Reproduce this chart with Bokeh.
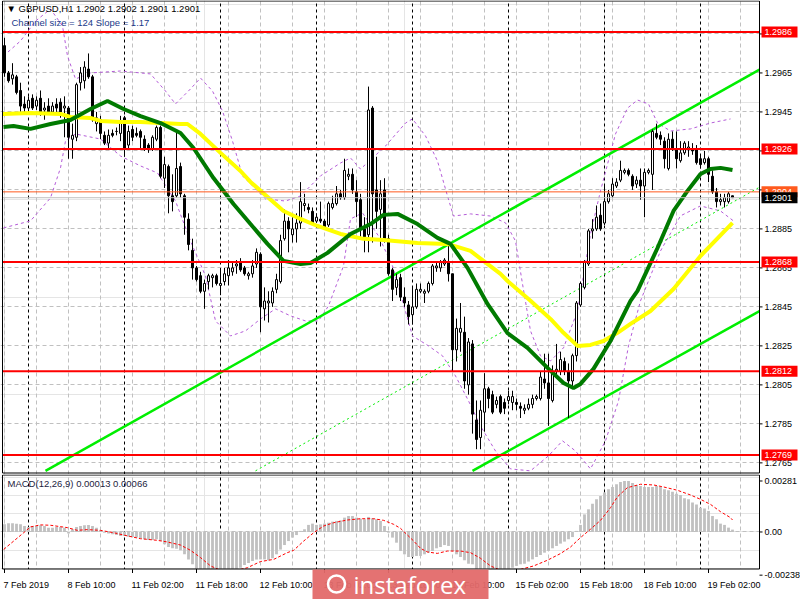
from bokeh.plotting import figure
from bokeh.models import Range1d, FixedTicker, Label, Grid
from bokeh.layouts import column
from bokeh.embed import file_html
from bokeh.resources import INLINE
from bokeh.core.properties import value

# ---------------- data (GBPUSD H1, bar index 0 = 7 Feb 2019 18:00) ----------------
bar_open = [
    1.2979, 1.2965, 1.2962, 1.2963, 1.2956, 1.2949, 1.2947, 1.2952, 1.2948, 1.2952,
    1.2946, 1.2948, 1.2945, 1.2949, 1.2950, 1.2947, 1.2947, 1.2931, 1.2932, 1.2960,
    1.2961, 1.2967, 1.2963, 1.2939, 1.2941, 1.2933, 1.2929, 1.2934, 1.2935, 1.2934,
    1.2942, 1.2928, 1.2936, 1.2934, 1.2935, 1.2931, 1.2928, 1.2926, 1.2931, 1.2937,
    1.2911, 1.2917, 1.2902, 1.2902, 1.2917, 1.2902, 1.2890, 1.2874, 1.2865, 1.2861,
    1.2853, 1.2858, 1.2860, 1.2861, 1.2856, 1.2858, 1.2861, 1.2863, 1.2866, 1.2868,
    1.2865, 1.2861, 1.2862, 1.2867, 1.2872, 1.2844, 1.2847, 1.2847, 1.2854, 1.2858,
    1.2880, 1.2889, 1.2882, 1.2885, 1.2888, 1.2897, 1.2896, 1.2894, 1.2889, 1.2890,
    1.2889, 1.2887, 1.2896, 1.2898, 1.2903, 1.2901, 1.2912, 1.2913, 1.2904, 1.2900,
    1.2885, 1.2882, 1.2947, 1.2905, 1.2895, 1.2905, 1.2880, 1.2864, 1.2855, 1.2860,
    1.2850, 1.2846, 1.2841, 1.2845, 1.2853, 1.2852, 1.2853, 1.2857, 1.2865, 1.2865,
    1.2867, 1.2868, 1.2862, 1.2823, 1.2832, 1.2832, 1.2805, 1.2826, 1.2787, 1.2778,
    1.2791, 1.2803, 1.2800, 1.2795, 1.2799, 1.2796, 1.2797, 1.2796, 1.2796, 1.2794,
    1.2792, 1.2793, 1.2795, 1.2798, 1.2798, 1.2808, 1.2806, 1.2797, 1.2812, 1.2812,
    1.2817, 1.2812, 1.2807, 1.2820, 1.2846, 1.2855, 1.2867, 1.2884, 1.2885, 1.2892,
    1.2888, 1.2899, 1.2902, 1.2907, 1.2910, 1.2914, 1.2915, 1.2912, 1.2908, 1.2910,
    1.2907, 1.2914, 1.2913, 1.2934, 1.2933, 1.2930, 1.2916, 1.2931, 1.2926, 1.2920,
    1.2924, 1.2926, 1.2926, 1.2926, 1.2921, 1.2919, 1.2921, 1.2912, 1.2904, 1.2899,
    1.2899, 1.2899, 1.2902]
bar_high = [
    1.2983, 1.2966, 1.2970, 1.2964, 1.2960, 1.2953, 1.2953, 1.2954, 1.2953, 1.2956,
    1.2950, 1.2952, 1.2950, 1.2952, 1.2952, 1.2953, 1.2948, 1.2939, 1.2960, 1.2968,
    1.2971, 1.2975, 1.2964, 1.2945, 1.2943, 1.2935, 1.2936, 1.2936, 1.2937, 1.2943,
    1.2943, 1.2938, 1.2938, 1.2937, 1.2936, 1.2933, 1.2929, 1.2933, 1.2938, 1.2938,
    1.2922, 1.2918, 1.2913, 1.2936, 1.2919, 1.2903, 1.2893, 1.2880, 1.2866, 1.2863,
    1.2859, 1.2862, 1.2862, 1.2862, 1.2865, 1.2865, 1.2869, 1.2868, 1.2869, 1.2870,
    1.2866, 1.2863, 1.2869, 1.2875, 1.2873, 1.2855, 1.2853, 1.2855, 1.2862, 1.2882,
    1.2895, 1.2891, 1.2891, 1.2893, 1.2909, 1.2903, 1.2898, 1.2896, 1.2893, 1.2899,
    1.2890, 1.2899, 1.2902, 1.2907, 1.2905, 1.2921, 1.2916, 1.2916, 1.2910, 1.2903,
    1.2891, 1.2958, 1.2948, 1.2922, 1.2910, 1.2911, 1.2882, 1.2865, 1.2862, 1.2862,
    1.2855, 1.2848, 1.2855, 1.2857, 1.2857, 1.2854, 1.2858, 1.2867, 1.2868, 1.2869,
    1.2870, 1.2877, 1.2862, 1.2839, 1.2847, 1.2840, 1.2829, 1.2828, 1.2797, 1.2797,
    1.2811, 1.2804, 1.2802, 1.2799, 1.2800, 1.2798, 1.2802, 1.2802, 1.2798, 1.2796,
    1.2795, 1.2798, 1.2800, 1.2800, 1.2812, 1.2821, 1.2821, 1.2815, 1.2826, 1.2822,
    1.2819, 1.2816, 1.2821, 1.2848, 1.2858, 1.2869, 1.2885, 1.2890, 1.2897, 1.2898,
    1.2907, 1.2905, 1.2911, 1.2911, 1.2920, 1.2916, 1.2916, 1.2913, 1.2912, 1.2916,
    1.2916, 1.2916, 1.2936, 1.2939, 1.2935, 1.2932, 1.2934, 1.2935, 1.2935, 1.2930,
    1.2930, 1.2930, 1.2929, 1.2928, 1.2923, 1.2925, 1.2922, 1.2915, 1.2906, 1.2903,
    1.2903, 1.2904, 1.2902]
bar_low = [
    1.2963, 1.2960, 1.2959, 1.2954, 1.2945, 1.2945, 1.2944, 1.2946, 1.2946, 1.2943,
    1.2941, 1.2944, 1.2944, 1.2945, 1.2942, 1.2932, 1.2921, 1.2921, 1.2930, 1.2956,
    1.2957, 1.2962, 1.2940, 1.2935, 1.2931, 1.2928, 1.2926, 1.2932, 1.2933, 1.2930,
    1.2922, 1.2926, 1.2930, 1.2932, 1.2926, 1.2925, 1.2924, 1.2925, 1.2930, 1.2911,
    1.2906, 1.2893, 1.2894, 1.2901, 1.2901, 1.2882, 1.2874, 1.2859, 1.2858, 1.2852,
    1.2844, 1.2854, 1.2855, 1.2856, 1.2851, 1.2856, 1.2856, 1.2861, 1.2862, 1.2863,
    1.2861, 1.2859, 1.2860, 1.2865, 1.2832, 1.2838, 1.2837, 1.2845, 1.2852, 1.2857,
    1.2879, 1.2873, 1.2878, 1.2878, 1.2885, 1.2894, 1.2893, 1.2887, 1.2888, 1.2888,
    1.2885, 1.2886, 1.2895, 1.2897, 1.2900, 1.2900, 1.2910, 1.2903, 1.2891, 1.2881,
    1.2873, 1.2873, 1.2878, 1.2885, 1.2876, 1.2878, 1.2861, 1.2848, 1.2851, 1.2848,
    1.2845, 1.2836, 1.2836, 1.2844, 1.2852, 1.2847, 1.2852, 1.2856, 1.2863, 1.2863,
    1.2866, 1.2858, 1.2812, 1.2817, 1.2822, 1.2803, 1.2800, 1.2780, 1.2772, 1.2772,
    1.2781, 1.2793, 1.2790, 1.2793, 1.2790, 1.2790, 1.2795, 1.2792, 1.2792, 1.2788,
    1.2790, 1.2792, 1.2793, 1.2797, 1.2797, 1.2803, 1.2784, 1.2796, 1.2810, 1.2810,
    1.2810, 1.2788, 1.2803, 1.2817, 1.2845, 1.2854, 1.2866, 1.2880, 1.2884, 1.2884,
    1.2887, 1.2898, 1.2901, 1.2906, 1.2909, 1.2913, 1.2912, 1.2905, 1.2906, 1.2900,
    1.2891, 1.2913, 1.2905, 1.2931, 1.2928, 1.2916, 1.2915, 1.2925, 1.2916, 1.2919,
    1.2923, 1.2922, 1.2923, 1.2918, 1.2916, 1.2918, 1.2909, 1.2903, 1.2896, 1.2897,
    1.2896, 1.2898, 1.2901]
bar_close = [
    1.2965, 1.2961, 1.2964, 1.2955, 1.2948, 1.2947, 1.2951, 1.2947, 1.2951, 1.2944,
    1.2947, 1.2945, 1.2948, 1.2947, 1.2945, 1.2948, 1.2932, 1.2933, 1.2959, 1.2965,
    1.2968, 1.2963, 1.2941, 1.2942, 1.2934, 1.2929, 1.2933, 1.2933, 1.2935, 1.2940,
    1.2926, 1.2935, 1.2932, 1.2933, 1.2932, 1.2926, 1.2926, 1.2932, 1.2937, 1.2912,
    1.2918, 1.2902, 1.2899, 1.2916, 1.2903, 1.2891, 1.2877, 1.2865, 1.2859, 1.2853,
    1.2857, 1.2861, 1.2861, 1.2857, 1.2857, 1.2862, 1.2865, 1.2865, 1.2867, 1.2864,
    1.2862, 1.2862, 1.2866, 1.2873, 1.2845, 1.2848, 1.2848, 1.2853, 1.2859, 1.2879,
    1.2889, 1.2885, 1.2885, 1.2888, 1.2899, 1.2898, 1.2895, 1.2888, 1.2891, 1.2889,
    1.2886, 1.2898, 1.2898, 1.2903, 1.2901, 1.2915, 1.2913, 1.2905, 1.2899, 1.2885,
    1.2881, 1.2946, 1.2903, 1.2894, 1.2903, 1.2879, 1.2862, 1.2854, 1.2859, 1.2850,
    1.2847, 1.2840, 1.2845, 1.2854, 1.2854, 1.2853, 1.2857, 1.2866, 1.2866, 1.2868,
    1.2869, 1.2862, 1.2823, 1.2834, 1.2834, 1.2807, 1.2827, 1.2790, 1.2777, 1.2792,
    1.2803, 1.2798, 1.2791, 1.2797, 1.2791, 1.2793, 1.2799, 1.2799, 1.2795, 1.2793,
    1.2793, 1.2795, 1.2798, 1.2799, 1.2809, 1.2806, 1.2798, 1.2812, 1.2813, 1.2818,
    1.2812, 1.2807, 1.2820, 1.2847, 1.2857, 1.2868, 1.2884, 1.2885, 1.2891, 1.2885,
    1.2899, 1.2903, 1.2908, 1.2909, 1.2915, 1.2915, 1.2913, 1.2907, 1.2910, 1.2907,
    1.2914, 1.2915, 1.2935, 1.2932, 1.2931, 1.2921, 1.2931, 1.2926, 1.2921, 1.2924,
    1.2929, 1.2927, 1.2925, 1.2919, 1.2918, 1.2921, 1.2913, 1.2904, 1.2899, 1.2900,
    1.2901, 1.2903, 1.2901]

# moving averages (read at sample bars)
ma_yellow_x = [-0.5, 6.5, 14, 16.5, 21.5, 24, 29, 34, 39, 44, 45.75, 49, 54, 59, 61.5, 69.75, 74,
               78.25, 84, 89.75, 94.75, 103.25, 110.75, 116.5, 119.75, 124, 125.75, 131.5, 136.5,
               139.75, 143.25, 146.5, 149.75, 153.25, 156.5, 161.5, 167.25, 174, 182]
ma_yellow_p = [1.29440, 1.29445, 1.29440, 1.29424, 1.29419, 1.29404, 1.29398, 1.29398, 1.29393,
               1.29388, 1.29388, 1.29337, 1.29240, 1.29147, 1.29091, 1.28942, 1.28901, 1.28865,
               1.28824, 1.28799, 1.28793, 1.28778, 1.28773, 1.28737, 1.28686, 1.28619, 1.28583,
               1.28481, 1.28388, 1.28317, 1.28250, 1.28255, 1.28275, 1.28317, 1.28363, 1.28429,
               1.28542, 1.28711, 1.28881]
ma_green_x = [-0.25, 2.25, 6.5, 11.5, 16.5, 21.5, 25.75, 29.75, 34, 39, 44, 47.25, 52.25, 57.25,
              61.5, 65.75, 69.75, 74, 76.5, 80.75, 86.5, 91.5, 94.75, 98.25, 103.25, 108.25, 111.5,
              115.75, 120.75, 125.75, 130.75, 135.75, 139.75, 142.25, 144, 147.25, 151.5, 156.5,
              158.25, 163.25, 167.25, 170.75, 174, 176.5, 179, 182]
ma_green_p = [1.29373, 1.29378, 1.29363, 1.29388, 1.29409, 1.29465, 1.29506, 1.29465, 1.29429,
              1.29393, 1.29342, 1.29265, 1.29111, 1.28978, 1.28875, 1.28773, 1.28686, 1.28670,
              1.28675, 1.28727, 1.28824, 1.28875, 1.28922, 1.28927, 1.28875, 1.28804, 1.28773,
              1.28650, 1.28465, 1.28316, 1.28240, 1.28137, 1.28060, 1.28034, 1.28055, 1.28132,
              1.28275, 1.28481, 1.28532, 1.28752, 1.28942, 1.29045, 1.29132, 1.29157, 1.29163,
              1.29152]

# envelope bands (purple dashed)
band_up_x = [-0.25, 4, 7.75, 11.5, 14.5, 15.75, 17.75, 21.5, 29, 36.5, 40.25, 42.75, 46.5, 49, 52,
             54.5, 57, 59.5, 61.5, 65.25, 70.25, 74, 79, 84, 86.5, 89, 95.25, 100.25, 102, 105.25,
             108.25, 110.75, 112.25, 116.5, 121.5, 125.25, 127.75, 129.5, 131.5, 134, 136.5,
             139.75, 143.25, 146.5, 149, 152.75, 155.75, 158.25, 161, 163.25, 166.5, 171.5,
             176.5, 181.5]
band_up_p = [1.29737, 1.29814, 1.29916, 1.29978, 1.29891, 1.29737, 1.29619, 1.29650, 1.29660,
             1.29645, 1.29557, 1.29491, 1.29568, 1.29624, 1.29557, 1.29455, 1.29301, 1.29122,
             1.29081, 1.29004, 1.28993, 1.29019, 1.29122, 1.29188, 1.29214, 1.29157, 1.29275,
             1.29393, 1.29414, 1.29327, 1.29198, 1.29019, 1.28916, 1.28927, 1.28916, 1.28881,
             1.28788, 1.28568, 1.28327, 1.28199, 1.28173, 1.28240, 1.28429, 1.28824, 1.29045,
             1.29337, 1.29470, 1.29511, 1.29491, 1.29393, 1.29352, 1.29363, 1.29393, 1.29414]
band_lo_x = [-0.25, 6.5, 11.5, 14, 15.25, 17.75, 24, 29, 34, 38.25, 42.75, 46.5, 50.25, 52.75,
             56.5, 60.25, 64, 67.75, 71.5, 75.25, 78.5, 81, 84.75, 86.5, 89.5, 93.5, 97, 99.5,
             102, 106, 109.5, 112.75, 116, 119, 122.75, 126.5, 131.5, 136, 139.5, 142.75, 146.5,
             150.25, 153.5, 156, 159, 164, 169, 174, 179, 182.25]
band_lo_p = [1.28855, 1.28891, 1.29009, 1.29163, 1.29301, 1.29337, 1.29311, 1.29224, 1.29173,
             1.29137, 1.28993, 1.28788, 1.28609, 1.28378, 1.28301, 1.28327, 1.28388, 1.28440,
             1.28404, 1.28378, 1.28378, 1.28455, 1.28660, 1.28901, 1.28932, 1.28814, 1.28660,
             1.28481, 1.28301, 1.28250, 1.28199, 1.28096, 1.27968, 1.27839, 1.27711, 1.27619,
             1.27609, 1.27686, 1.27763, 1.27711, 1.27619, 1.27763, 1.27968, 1.28250, 1.28481,
             1.28737, 1.28917, 1.28968, 1.28942, 1.28891]

# regression channel (end points)
chan_up_x = [10.25, 188.75]
chan_up_p = [1.27609, 1.29667]
chan_mid_x = [62.75, 188.75]
chan_mid_p = [1.27609, 1.29064]
chan_lo_x = [117.0, 188.75]
chan_lo_p = [1.27609, 1.28428]

# horizontal levels
red_levels = [1.2986, 1.2926, 1.2868, 1.2812, 1.2769]
ask_level = 1.2904
bid_level = 1.2901

price_ticks = [1.2765, 1.2785, 1.2805, 1.2825, 1.2845, 1.2865, 1.2885, 1.2905, 1.2925, 1.2945,
               1.2965, 1.2985]

# MACD(12,26,9)
macd_hist = [
    0.00042, 0.00048, 0.00048, 0.00046, 0.00042, 0.00033, 0.00028, 0.00033, 0.00033, 0.00037,
    0.00033, 0.00024, 0.00024, 0.00028, 0.00028, 0.00024, -0.00009, 0.00015, 0.00028, 0.00033,
    0.00037, 0.00039, 0.00033, 0.00024, 0.00009, -0.00004, -0.00009, -0.00013, -0.00017, -0.00022,
    -0.00022, -0.00026, -0.00028, -0.00031, -0.00035, -0.00040, -0.00044, -0.00044, -0.00040, -0.00050,
    -0.00068, -0.00083, -0.00090, -0.00092, -0.00101, -0.00123, -0.00151, -0.00178, -0.00206, -0.00218,
    -0.00226, -0.00232, -0.00236, -0.00238, -0.00236, -0.00231, -0.00226, -0.00218, -0.00206, -0.00197,
    -0.00182, -0.00171, -0.00160, -0.00152, -0.00151, -0.00151, -0.00156, -0.00145, -0.00123, -0.00097,
    -0.00072, -0.00050, -0.00031, -0.00017, 0.00006, 0.00015, 0.00039, 0.00046, 0.00039, 0.00042,
    0.00046, 0.00051, 0.00057, 0.00061, 0.00064, 0.00079, 0.00088, 0.00088, 0.00079, 0.00073,
    0.00070, 0.00083, 0.00075, 0.00070, 0.00061, 0.00033, -0.00004, -0.00031, -0.00059, -0.00105,
    -0.00123, -0.00138, -0.00138, -0.00132, -0.00132, -0.00123, -0.00114, -0.00105, -0.00090, -0.00083,
    -0.00072, -0.00077, -0.00105, -0.00123, -0.00138, -0.00156, -0.00175, -0.00178, -0.00206, -0.00218,
    -0.00226, -0.00230, -0.00228, -0.00222, -0.00214, -0.00211, -0.00206, -0.00197, -0.00187, -0.00178,
    -0.00175, -0.00163, -0.00151, -0.00138, -0.00127, -0.00114, -0.00105, -0.00090, -0.00077, -0.00064,
    -0.00053, -0.00040, -0.00028, 0.00006, 0.00039, 0.00097, 0.00125, 0.00156, 0.00180, 0.00198,
    0.00217, 0.00235, 0.00248, 0.00263, 0.00276, 0.00281, 0.00281, 0.00270, 0.00259, 0.00254,
    0.00248, 0.00248, 0.00248, 0.00254, 0.00248, 0.00235, 0.00230, 0.00222, 0.00211, 0.00204,
    0.00186, 0.00180, 0.00162, 0.00152, 0.00134, 0.00130, 0.00116, 0.00088, 0.00070, 0.00046,
    0.00039, 0.00024, 0.00013]
sig_x = [-0.2, 2.3, 4.8, 6.5, 9, 11.5, 15.7, 18.2, 20.7, 24, 27.3, 29.8, 34, 38.2, 40.7, 44, 46.5,
         49, 51.5, 54, 57.3, 60.7, 64, 67.3, 70.7, 72.3, 74.8, 77.3, 79.8, 82.3, 85.7, 89, 92.3,
         94.8, 97.3, 99, 102.3, 104, 105.7, 108.2, 110.7, 114, 116.5, 119, 121.5, 124, 126.5, 129,
         132.3, 135.7, 139, 141.5, 144, 146.5, 149, 151.5, 153.2, 155.7, 159, 162.3, 164.8, 168.2,
         171.5, 174, 176.5, 179, 181.5, 182]
sig_v = [-0.00096, -0.00050, -0.00004, 0.00028, 0.00039, 0.00037, 0.00024, 0.00009, 0.00013,
         0.00009, -0.00004, -0.00017, -0.00037, -0.00046, -0.00055, -0.00072, -0.00101, -0.00141,
         -0.00187, -0.00211, -0.00215, -0.00197, -0.00163, -0.00151, -0.00114, -0.00101, -0.00050,
         -0.00004, 0.00033, 0.00051, 0.00066, 0.00073, 0.00073, 0.00064, 0.00042, 0.00020,
         -0.00050, -0.00090, -0.00110, -0.00118, -0.00105, -0.00105, -0.00114, -0.00145, -0.00187,
         -0.00211, -0.00215, -0.00206, -0.00187, -0.00156, -0.00119, -0.00083, -0.00031, 0.00015,
         0.00064, 0.00134, 0.00193, 0.00244, 0.00263, 0.00259, 0.00248, 0.00230, 0.00204, 0.00180,
         0.00152, 0.00112, 0.00079, 0.00066]
macd_ticks = [0.00281, 0.0, -0.00238]
macd_tick_labels = ["0.00281", "0.00", "-0.00238"]

grid_bars = list(range(0, 189, 8))
day_sep_bars = [6, 30, 54, 78, 102, 126, 150, 174]
time_tick_bars = [0, 16, 32, 48, 64, 80, 96, 112, 128, 144, 160, 176]
time_tick_labels = ["7 Feb 2019", "8 Feb 10:00", "11 Feb 02:00", "11 Feb 18:00", "12 Feb 10:00",
                    "13 Feb 02:00", "13 Feb 18:00", "14 Feb 10:00", "15 Feb 02:00", "15 Feb 18:00",
                    "18 Feb 10:00", "19 Feb 02:00"]

# ---------------- geometry / styling ----------------
FONT = "Liberation Sans"
GRAY = "#c0c0c0"
W = 800
PXB = 4.0                          # pixels per bar
X0, X1 = -0.5, 188.75              # left / right edge of the price area (bars)
XL = X0 - 2 / PXB
XR = XL + W / PXB

MAIN_TOP, MAIN_BOT = 1.30019, 1.27598
MAIN_PANEL_H = 472
MAIN_FRAME_H = 474
vpp = (MAIN_TOP - MAIN_BOT) / MAIN_PANEL_H

MACD_TOP, MACD_BOT = 0.00314, -0.00204
MACD_PANEL_H = 94
MACD_FRAME_H = 126
mvpp = (MACD_TOP - MACD_BOT) / MACD_PANEL_H
LABEL_PX = MACD_FRAME_H - MACD_PANEL_H - 0.5

idx = list(range(len(bar_open)))
up = [i for i in idx if bar_close[i] >= bar_open[i]]
dn = [i for i in idx if bar_close[i] < bar_open[i]]


def add_vgrids(fig):
    fig.add_layout(Grid(dimension=0, ticker=FixedTicker(ticks=grid_bars),
                        grid_line_color=GRAY, grid_line_dash="4 3"))
    fig.add_layout(Grid(dimension=0, ticker=FixedTicker(ticks=day_sep_bars),
                        grid_line_color="black", grid_line_dash="3 3"))


def base_fig(h, yr):
    f = figure(frame_width=W, frame_height=h, x_range=Range1d(XL, XR), y_range=yr,
               output_backend="svg", toolbar_location=None,
               x_axis_location=None, y_axis_location=None,
               min_border_left=0, min_border_right=0, min_border_top=0, min_border_bottom=0)
    f.outline_line_color = None
    f.background_fill_color = "white"
    f.border_fill_color = "white"
    return f


def axis_text(fig, ys, labels, color="black"):
    fig.text(x=[X1] * len(ys), y=ys, text=labels, x_offset=5,
             text_font=value(FONT), text_font_size=value("9px"), text_color=color,
             text_baseline="middle", text_align="left")


def badge(fig, lv, txt, fill):
    fig.rect(x=[X1 + 20 / PXB], y=[lv], width=36, height=11, width_units="screen",
             height_units="screen", fill_color=fill, line_color=None)
    axis_text(fig, [lv], [txt], color="white")


# ---------------- main price panel ----------------
p = base_fig(MAIN_FRAME_H, Range1d(MAIN_BOT - 1.5 * vpp, MAIN_TOP + 0.5 * vpp))
add_vgrids(p)
p.add_layout(Grid(dimension=1, ticker=FixedTicker(ticks=price_ticks),
                  grid_line_color=GRAY, grid_line_dash="4 3"))

p.line(band_up_x, band_up_p, line_color="#b45cd8", line_width=1, line_dash="3 3")
p.line(band_lo_x, band_lo_p, line_color="#b45cd8", line_width=1, line_dash="3 3")

p.line(chan_up_x, chan_up_p, line_color="#00ee00", line_width=2.5)
p.line(chan_lo_x, chan_lo_p, line_color="#00ee00", line_width=2.5)
p.line(chan_mid_x, chan_mid_p, line_color="#00ee00", line_width=1, line_dash="2 3")

p.segment(x0=idx, y0=bar_low, x1=idx, y1=bar_high, line_color="black", line_width=1)
p.vbar(x=up, width=0.5, top=[bar_close[i] for i in up], bottom=[bar_open[i] for i in up],
       fill_color="white", line_color="black", line_width=1)
p.vbar(x=dn, width=0.5, top=[bar_open[i] for i in dn], bottom=[bar_close[i] for i in dn],
       fill_color="black", line_color="black", line_width=1)

p.line(ma_yellow_x, ma_yellow_p, line_color="#ffff00", line_width=4)
p.line(ma_green_x, ma_green_p, line_color="#007a00", line_width=4)

n_red = len(red_levels)
p.segment(x0=[X0] * n_red, x1=[X1] * n_red, y0=red_levels, y1=red_levels,
          line_color="#ff0000", line_width=2)
p.segment(x0=[X0], x1=[X1], y0=[ask_level], y1=[ask_level], line_color="#ff5a1e", line_width=1)
p.segment(x0=[X0], x1=[X1], y0=[bid_level], y1=[bid_level], line_color=GRAY, line_width=1)

# right price scale
p.quad(left=[X1], right=[XR], bottom=[MAIN_BOT - 1.5 * vpp], top=[MAIN_TOP + 0.5 * vpp],
       fill_color="white", line_color=None)
p.quad(left=[X0], right=[X1], bottom=[MAIN_BOT], top=[MAIN_TOP],
       fill_color=None, line_color="black", line_width=1)
n_t = len(price_ticks)
p.segment(x0=[X1] * n_t, x1=[X1 + 3 / PXB] * n_t, y0=price_ticks, y1=price_ticks,
          line_color="black", line_width=1)
axis_text(p, price_ticks, ["%.4f" % t for t in price_ticks])
for lv in red_levels:
    badge(p, lv, "%.4f" % lv, "#ff0000")
badge(p, ask_level, "%.4f" % ask_level, "#ff5a1e")
badge(p, bid_level, "%.4f" % bid_level, "black")

p.add_layout(Label(x=6, y=MAIN_FRAME_H - 8, x_units="screen", y_units="screen",
                   text="\u25bc GBPUSD,H1  1.2902 1.2902 1.2901 1.2901",
                   text_font=FONT, text_font_size="9.5px", text_color="black",
                   text_baseline="middle"))
p.add_layout(Label(x=11, y=MAIN_FRAME_H - 22, x_units="screen", y_units="screen",
                   text="Channel size = 124 Slope = 1.17",
                   text_font=FONT, text_font_size="9.5px", text_color="#1b3a8a",
                   text_baseline="middle"))

# ---------------- MACD panel ----------------
q = base_fig(MACD_FRAME_H, Range1d(MACD_BOT - LABEL_PX * mvpp, MACD_TOP + 0.5 * mvpp))
add_vgrids(q)
q.add_layout(Grid(dimension=1, ticker=FixedTicker(ticks=[0.0]),
                  grid_line_color=GRAY, grid_line_dash="4 3"))

q.vbar(x=idx, width=0.7, top=macd_hist, bottom=0, fill_color=GRAY, line_color=None)
q.line(sig_x, sig_v, line_color="#ff0000", line_width=1, line_dash="3 2")

q.quad(left=[X1], right=[XR], bottom=[MACD_BOT - LABEL_PX * mvpp], top=[MACD_TOP + 0.5 * mvpp],
       fill_color="white", line_color=None)
q.quad(left=[XL], right=[XR], bottom=[MACD_BOT - LABEL_PX * mvpp], top=[MACD_BOT],
       fill_color="white", line_color=None)
q.quad(left=[X0], right=[X1], bottom=[MACD_BOT], top=[MACD_TOP],
       fill_color=None, line_color="black", line_width=1)

q.segment(x0=[X1] * 3, x1=[X1 + 3 / PXB] * 3, y0=macd_ticks, y1=macd_ticks,
          line_color="black", line_width=1)
axis_text(q, macd_ticks, macd_tick_labels)

n_x = len(time_tick_bars)
q.segment(x0=time_tick_bars, x1=time_tick_bars, y0=[MACD_BOT] * n_x,
          y1=[MACD_BOT - 4 * mvpp] * n_x, line_color="black", line_width=1)
q.text(x=time_tick_bars, y=[MACD_BOT] * n_x, text=time_tick_labels, x_offset=-1, y_offset=16,
       text_font=value(FONT), text_font_size=value("9px"), text_color="black",
       text_baseline="middle", text_align="left")

# watermark
q.quad(left=[77.0], right=[121.0], bottom=[MACD_BOT - 30 * mvpp], top=[MACD_BOT - 0.5 * mvpp],
       fill_color="#e36a6a", line_color=None, fill_alpha=0.95)
q.scatter(x=[83.0], y=[MACD_BOT - 15 * mvpp], marker="circle", size=17,
          fill_color=None, line_color="white", line_width=2.5)
q.text(x=[87.25], y=[MACD_BOT], text=["instaforex"], y_offset=15,
       text_font=value("Open Sans"), text_font_size=value("24px"), text_color="white",
       text_baseline="middle", text_align="left")

q.add_layout(Label(x=7, y=MACD_FRAME_H - 9, x_units="screen", y_units="screen",
                   text="MACD(12,26,9) 0.00013 0.00066", text_font=FONT,
                   text_font_size="9.5px", text_color="#1c2340", text_baseline="middle"))

layout = column(p, q, spacing=0)
open("out.html", "w").write(file_html(layout, INLINE))
